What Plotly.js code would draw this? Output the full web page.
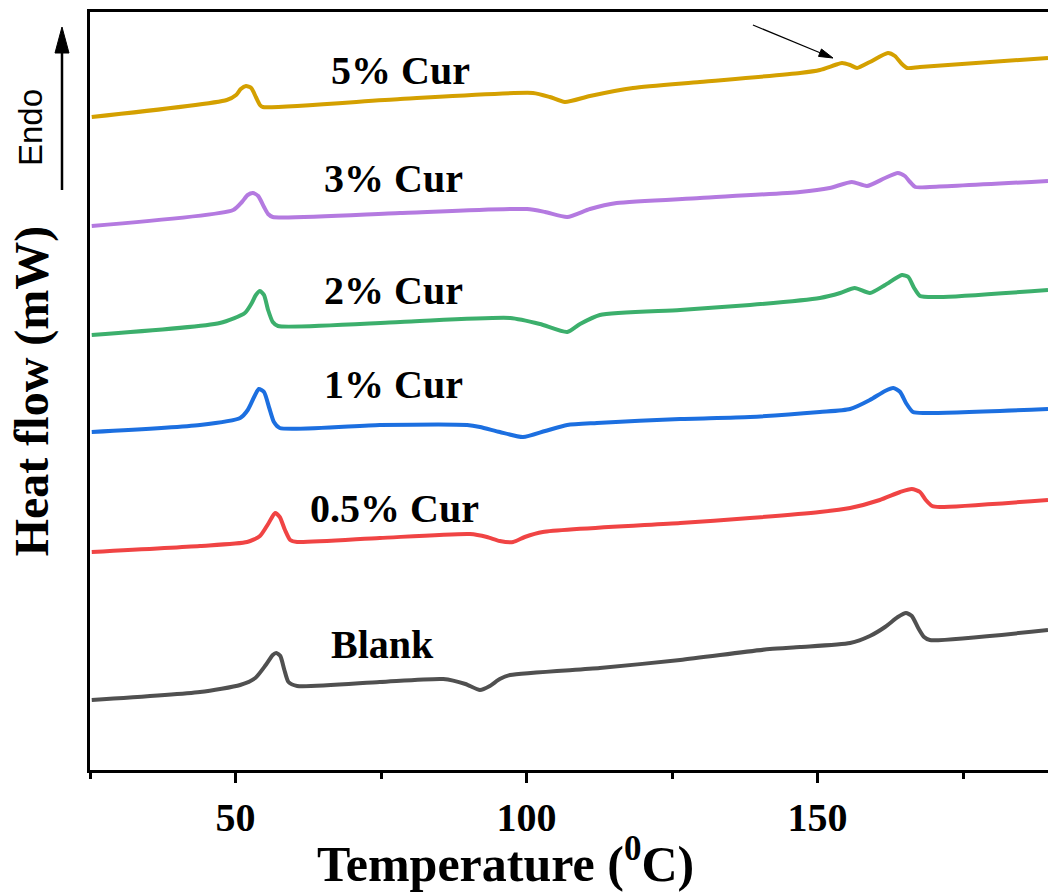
<!DOCTYPE html>
<html>
<head>
<meta charset="utf-8">
<script src="https://cdn.plot.ly/plotly-3.0.1.min.js"></script>
<style>html,body{margin:0;padding:0;background:#fff;}#chart{width:1048px;height:895px;}</style>
</head>
<body>
<div id="chart"></div>
<script>
// Temperature (°C) and heat flow (arbitrary offset units)
const blankT = [25.3,43.9,50.8,53.4,55.2,56.4,57.0,57.7,58.4,59.1,60.6,74.8,85.7,89.5,92.0,93.7,95.4,97.2,112.6,126.4,141.8,147.0,155.6,159.0,161.6,163.8,165.2,166.2,167.3,168.3,169.3,189.6];
const blankY = [70,78,85,92,105,115,117,114,100,88,84,88,91,86,80,84,91,95,102,110,121,123,127,134,143,153,157,154,142,133,130,140];

const cur05T = [25.3,43.9,52.0,54.2,55.6,56.8,57.6,58.5,59.4,60.6,74.8,90.3,93.2,95.4,97.7,99.7,102.8,126.4,138.4,150.4,155.6,160.7,164.2,166.2,167.6,168.6,169.7,171.0,189.6];
const cur05Y = [218,224,228,234,246,257,253,240,230,228,232,236,233,229,228,233,238,247,252,258,262,270,278,281,278,270,264,263,270];

const cur1T = [25.3,43.9,50.8,52.1,53.2,54.0,54.9,55.8,56.6,57.6,74.8,89.8,92.0,95.4,99.4,103.2,107.0,112.1,126.4,138.4,150.4,155.6,159.0,161.6,163.0,164.2,165.2,166.4,168.5,189.6];
const cur1Y = [338,345,352,360,373,381,378,362,348,342,345,345,343,338,333,339,345,347,351,353,358,361,370,379,382,378,367,358,357,361];

const cur2T = [25.3,47.3,51.6,52.8,53.5,54.2,54.9,55.6,56.4,57.3,78.3,97.2,102.3,107.0,109.2,112.6,126.4,138.4,150.4,153.9,156.4,159.0,161.6,164.5,165.6,166.6,167.6,171.0,189.6];
const cur2Y = [435,447,457,467,475,479,475,460,448,444,448,452,446,438,446,455,460,465,472,477,482,477,485,495,493,482,474,473,480];

const cur3T = [25.3,49.6,51.1,52.1,53.0,53.9,54.9,55.6,56.4,78.3,100.1,103.2,107.0,110.9,115.5,129.8,147.0,152.1,155.9,158.5,161.6,163.8,165.0,165.9,166.8,169.3,189.6];
const cur3Y = [544,560,568,575,577,574,563,556,553,557,561,558,553,561,567,572,578,582,588,584,592,597,594,588,583,583,589];

const cur5T = [25.3,48.5,50.1,50.9,51.8,52.7,53.5,54.2,54.7,78.3,101.1,104.0,106.6,110.9,118.3,129.8,147.0,150.4,153.0,154.2,155.6,156.8,159.0,162.1,163.3,164.5,165.4,167.6,189.6];
const cur5Y = [653,670,675,681,684,682,673,665,663,671,677,673,668,674,682,688,697,700,705,707,705,702,708,717,714,706,702,703,712];

const seriesNames = ["Blank","0.5% Cur","1% Cur","2% Cur","3% Cur","5% Cur"];
const seriesColors = ["#505050","#f04444","#1c6fe0","#3caf6c","#b47ae0","#d4a000"];
const xTickVals = [50,100,150];
const xTickText = ["50","100","150"];
const xTitle = "Temperature (<sup>0</sup>C)";
const yTitle = "Heat flow (mW)";

const xs = [blankT,cur05T,cur1T,cur2T,cur3T,cur5T];
const ys = [blankY,cur05Y,cur1Y,cur2Y,cur3Y,cur5Y];

const traces = seriesNames.map((n,i)=>({
  x: xs[i], y: ys[i], type:'scatter', mode:'lines', name:n,
  line:{color:seriesColors[i], width:4, shape:'spline', smoothing:0.6},
  showlegend:false, hoverinfo:'skip'
}));

const serif = "Liberation Serif, Times New Roman, serif";
const labelPos = [[75.3,126],[77.4,262],[77.1,386],[77.1,480],[77.1,592],[78.3,700]];
const annotations = seriesNames.map((n,i)=>({
  x: labelPos[i][0], y: labelPos[i][1], xref:'x', yref:'y', text:n, showarrow:false,
  xanchor:'center', yanchor:'middle',
  font:{family:serif, size:40, color:'#000', weight:'bold'}
}));
annotations.push({
  xref:'paper', yref:'paper', x:-0.0615, y:0.847, xanchor:'center', yanchor:'middle',
  text:'Endo', textangle:-90, showarrow:false,
  font:{family:'Liberation Sans, Arial, sans-serif', size:33, color:'#000'}
});
annotations.push({
  xref:'paper', yref:'paper', x:0.434, y:-0.120, xanchor:'center', yanchor:'middle',
  text:xTitle, showarrow:false,
  font:{family:serif, size:50, color:'#000', weight:'bold'}
});

// Arrows drawn as shapes (Endo arrow in paper units, pointer arrow near 5% Cur in axis units)
const shapes = [
  {type:'line', xref:'paper', yref:'paper', x0:-0.02923, y0:0.7652, x1:-0.02923, y1:0.9499,
   line:{color:'#000', width:2.5}},
  {type:'path', xref:'paper', yref:'paper', path:'M -0.03653 0.9459 L -0.02923 0.9802 L -0.02192 0.9459 Z',
   fillcolor:'#000', line:{color:'#000', width:1}},
  {type:'line', xref:'x', yref:'y', x0:138.9, y0:745, x1:150.43, y1:717.3,
   line:{color:'#000', width:1.2}},
  {type:'path', xref:'x', yref:'y', path:'M 150.17 713.6 L 152.66 712 L 150.68 721 Z',
   fillcolor:'#000', line:{color:'#000', width:1}}
];

const layout = {
  width:1048, height:895,
  margin:{l:90, r:0, t:12, b:125},
  paper_bgcolor:'#fff', plot_bgcolor:'#fff',
  xaxis:{
    range:[25,189.6], showgrid:false, zeroline:false,
    showline:true, linecolor:'#000', linewidth:3, mirror:true,
    ticks:'outside', ticklen:10, tickwidth:3, tickcolor:'#000',
    tickvals:xTickVals, ticktext:xTickText, ticklabelstandoff:0,
    minor:{tickvals:[25,75,125,175], ticks:'outside', ticklen:6, tickwidth:3, tickcolor:'#000'},
    tickfont:{family:serif, size:40, color:'#000', weight:'bold'}
  },
  yaxis:{
    range:[0,758], showgrid:false, zeroline:false,
    showline:true, linecolor:'#000', linewidth:3,
    ticks:'', showticklabels:false,
    title:{text:yTitle, standoff:24, font:{family:serif, size:48, color:'#000', weight:'bold'}}
  },
  annotations:annotations,
  shapes:shapes
};

Plotly.newPlot('chart', traces, layout, {staticPlot:true, displayModeBar:false});
</script>
</body>
</html>
